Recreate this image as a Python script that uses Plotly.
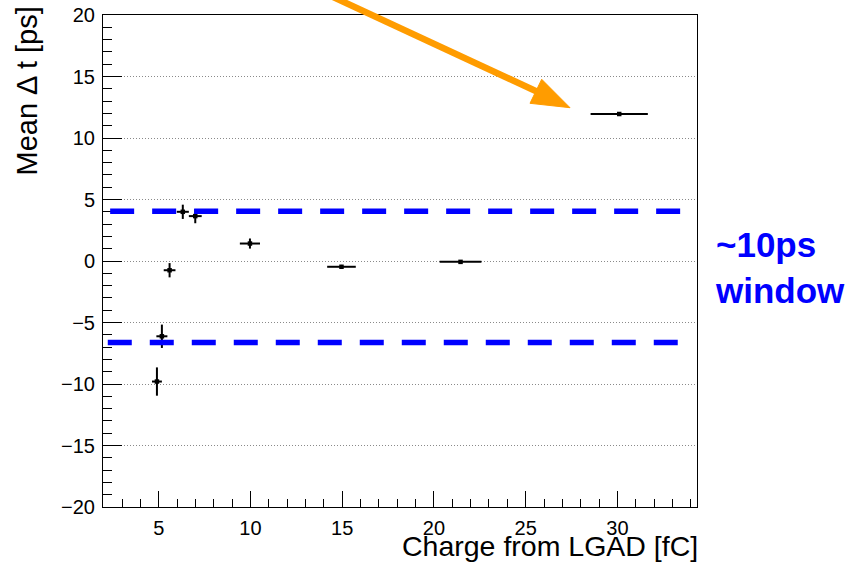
import plotly.graph_objects as go

# Mean time offset vs. LGAD charge
charge = [4.90, 5.17, 5.59, 6.31, 6.99, 9.97, 14.96, 21.45, 30.10]
charge_err = [0.27, 0.30, 0.32, 0.33, 0.35, 0.55, 0.78, 1.14, 1.56]
mean_dt = [-9.80, -6.12, -0.75, 4.00, 3.65, 1.42, -0.47, -0.07, 11.95]
mean_dt_err = [1.15, 0.95, 0.58, 0.58, 0.58, 0.41, 0.15, 0.15, 0.15]

# timing window bounds [ps] and the charge span each dashed line covers
window_levels = [4.05, -6.63]
window_spans = [(2.35, 33.45), (2.22, 33.29)]

x_ticks = [5, 10, 15, 20, 25, 30]
y_ticks = [-20, -15, -10, -5, 0, 5, 10, 15, 20]

W, H = 855, 563
ML, MR, MT, MB = 103, 158, 15, 56
PW, PH = W - ML - MR, H - MT - MB


def px(xp, yp):
    """page pixel -> paper coordinates"""
    return (xp - ML) / PW, (H - MB - yp) / PH


FONT = "Liberation Sans, Arial, Helvetica, sans-serif"
BLUE = "#0000ff"
ORANGE = "#ff9c00"

fig = go.Figure()
fig.add_trace(go.Scatter(
    x=charge, y=mean_dt,
    mode="markers",
    marker=dict(symbol="square", size=4.5, color="black"),
    error_x=dict(type="data", array=charge_err, width=0, thickness=2, color="black"),
    error_y=dict(type="data", array=mean_dt_err, width=0, thickness=2, color="black"),
    showlegend=False,
    cliponaxis=False,
))

shapes = []
for lvl, (a, b) in zip(window_levels, window_spans):
    shapes.append(dict(type="line", xref="x", yref="y", x0=a, x1=b, y0=lvl, y1=lvl,
                       line=dict(color=BLUE, width=5.5, dash="24px,18px"), layer="above"))

# orange pointer arrow
s0 = px(318, -10)
s1 = px(540, 93)
tip = px(570, 107.7)
c1 = px(530, 103.3)
c2 = px(541.7, 79.3)
shapes.append(dict(type="line", xref="paper", yref="paper", x0=s0[0], y0=s0[1], x1=s1[0], y1=s1[1],
                   line=dict(color=ORANGE, width=6.5), layer="above"))
shapes.append(dict(type="path", xref="paper", yref="paper",
                   path=f"M{tip[0]},{tip[1]} L{c1[0]},{c1[1]} L{c2[0]},{c2[1]} Z",
                   fillcolor=ORANGE, line=dict(color=ORANGE, width=1), layer="above"))

annotations = [
    dict(text="Charge from LGAD [fC]", xref="paper", yref="paper",
         x=px(699, 0)[0], y=px(0, 563)[1], xanchor="right", yanchor="bottom",
         showarrow=False, borderpad=0, font=dict(family=FONT, size=28.5, color="black")),
    dict(text="Mean \u0394 t [ps]", xref="paper", yref="paper", textangle=-90,
         x=px(8, 0)[0], y=px(0, 5)[1], xanchor="left", yanchor="top",
         showarrow=False, font=dict(family=FONT, size=29, color="black")),
    dict(text="<b>~10ps<br>window</b>", xref="paper", yref="paper",
         x=px(713, 0)[0], y=px(0, 267)[1], xanchor="left", yanchor="middle", align="left",
         showarrow=False, font=dict(family=FONT, size=35, color=BLUE)),
]

fig.update_layout(
    template="none",
    width=W, height=H,
    margin=dict(l=ML, r=MR, t=MT, b=MB, pad=0),
    paper_bgcolor="white", plot_bgcolor="white",
    font=dict(family=FONT, size=20, color="black"),
    shapes=shapes, annotations=annotations,
    xaxis=dict(range=[1.96, 34.34], tickvals=x_ticks, ticks="inside", ticklen=16,
               tickwidth=1, tickcolor="black", showgrid=False, zeroline=False,
               showline=True, linecolor="black", linewidth=1, mirror=True,
               ticklabelstandoff=3, automargin=False,
               minor=dict(dtick=1, tick0=0, ticks="inside", ticklen=8, tickcolor="black",
                          tickwidth=1, showgrid=False)),
    yaxis=dict(range=[-20, 20], tickvals=y_ticks, ticks="inside", ticklen=19,
               tickwidth=1, tickcolor="black", showgrid=True, gridcolor="#8a8a8a",
               griddash="1px,2px", gridwidth=1, zeroline=False,
               showline=True, linecolor="black", linewidth=1, mirror=True,
               ticklabelstandoff=3, automargin=False,
               minor=dict(dtick=1, tick0=0, ticks="inside", ticklen=9, tickcolor="black",
                          tickwidth=1, showgrid=False)),
)

fig.write_html("out.html")
